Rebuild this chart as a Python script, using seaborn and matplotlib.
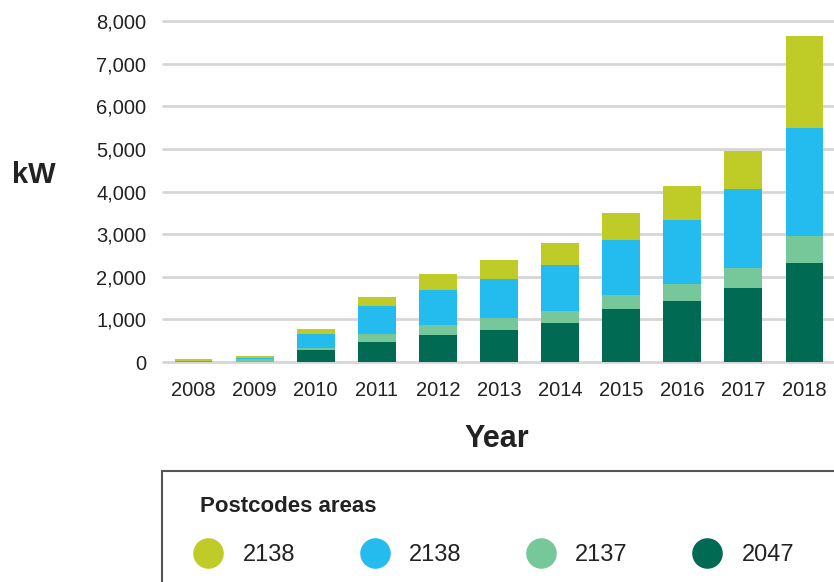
import numpy as np
import pandas as pd
import matplotlib
matplotlib.use("Agg")
import matplotlib.pyplot as plt
import seaborn as sns
from matplotlib.lines import Line2D
from matplotlib.patches import Rectangle

# Datos (kW instalados por año y código postal)
years = ["2008", "2009", "2010", "2011", "2012", "2013", "2014", "2015", "2016", "2017", "2018"]
kw_2047 = [5, 5, 282, 470, 634, 751, 915, 1244, 1432, 1737, 2324]
kw_2137 = [5, 60, 47, 187, 235, 282, 282, 329, 400, 470, 634]
kw_2138_blue = [10, 25, 328, 658, 821, 915, 1080, 1291, 1502, 1854, 2542]
kw_2138_lime = [55, 50, 118, 211, 376, 446, 516, 634, 798, 892, 2153]

legend_labels = ["2138", "2138", "2137", "2047"]
colors = ["#BFCC27", "#24BCEE", "#76C89A", "#006A52"]
text_color = "#222222"

sns.set_theme(style="white")
plt.rcParams["font.family"] = ["Liberation Sans", "DejaVu Sans"]

df = pd.DataFrame({
    "year": years,
    "2047": kw_2047,
    "2137": kw_2137,
    "2138b": kw_2138_blue,
    "2138a": kw_2138_lime,
})
# acumulados, de abajo hacia arriba
df["c1"] = df["2047"]
df["c2"] = df["c1"] + df["2137"]
df["c3"] = df["c2"] + df["2138b"]
df["c4"] = df["c3"] + df["2138a"]

fig = plt.figure(figsize=(8.34, 5.82), dpi=100)
ax = fig.add_axes([163 / 834, 220 / 582, 672 / 834, 341 / 582])

# barras apiladas: se dibuja primero el total y encima los acumulados menores
for col, c in zip(["c4", "c3", "c2", "c1"], colors):
    sns.barplot(data=df, x="year", y=col, color=c, width=0.62,
                saturation=1, linewidth=0, ax=ax, zorder=3)

ax.set_xlim(-0.5, 10.5)
ax.set_ylim(0, 8000)
ax.set_yticks(np.arange(0, 8001, 1000))
ax.set_yticklabels([f"{v:,}" for v in range(0, 8001, 1000)])
ax.yaxis.grid(True, color="#D6D6D6", linewidth=2.0)
ax.set_axisbelow(True)
for gl in ax.get_ygridlines():
    gl.set_clip_on(False)
sns.despine(ax=ax, left=True, bottom=True)

ax.tick_params(axis="both", length=0, labelsize=14.5, labelcolor=text_color)
ax.tick_params(axis="x", pad=14)
ax.tick_params(axis="y", pad=12)

ax.set_ylabel("kW", rotation=0, fontsize=21, fontweight="bold",
              color=text_color, ha="center", va="center")
ax.yaxis.set_label_coords(-0.192, 0.548)
ax.set_xlabel("Year", fontsize=22, fontweight="bold", color=text_color,
              ha="center", va="center")
ax.xaxis.set_label_coords(0.497, -0.226)

# caja de la leyenda (se sale del lienzo por la derecha y abajo)
fig.add_artist(Rectangle((162 / 834, -0.1), 1.0, (582 - 471) / 582 + 0.1,
                         transform=fig.transFigure, fill=False,
                         edgecolor="#555555", linewidth=1.5))
fig.text(200 / 834, 1 - 506 / 582, "Postcodes areas", fontsize=16,
         fontweight="bold", color=text_color, ha="left", va="center")

handles = [Line2D([], [], linestyle="", marker="o", markersize=21,
                  markerfacecolor=c, markeredgecolor=c) for c in colors]
fig.legend(handles, legend_labels, ncol=4, frameon=False,
           loc="center left", bbox_to_anchor=(193 / 834, 1 - 555 / 582),
           fontsize=17, handlelength=1.3, handletextpad=0.8,
           columnspacing=2.72, borderpad=0, borderaxespad=0,
           labelcolor=text_color)

fig.savefig("out.png", dpi=100)
